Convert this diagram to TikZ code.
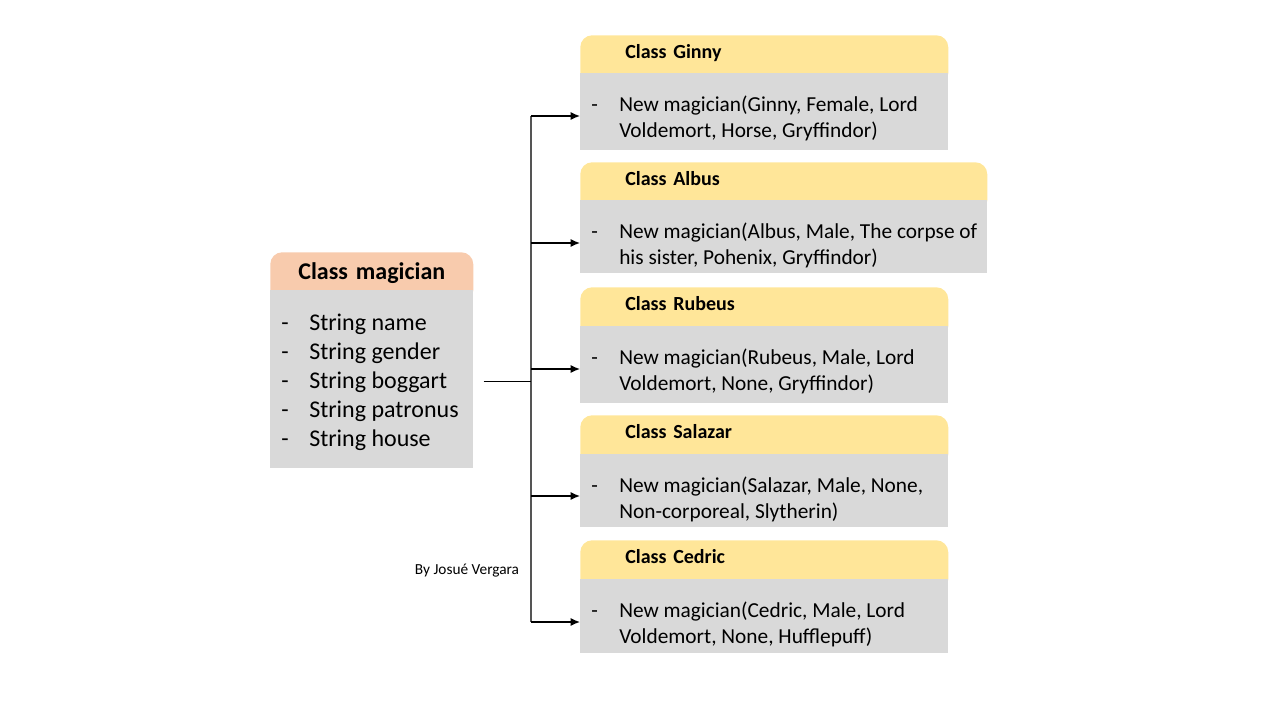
\documentclass[tikz,border=0pt]{standalone}
\usepackage{fontspec}
\setmainfont{Carlito}
\usetikzlibrary{arrows.meta}
\newdimen\px \px=0.75pt
\definecolor{peachh}{HTML}{F8CBAD}
\definecolor{yellowh}{HTML}{FFE699}
\definecolor{grayb}{HTML}{D9D9D9}
\definecolor{trunkc}{HTML}{555555}
\newcommand\smallbody[4]{\begin{minipage}[t][#2\px][t]{#1\px}\fontsize{16pt}{19.5pt}\selectfont\rule{0pt}{38\px}\makebox[39\px][l]{\hspace*{11\px}-}#3\\\hspace*{39\px}#4\end{minipage}}
\newcommand\mitem[1]{\makebox[39\px][l]{\hspace*{11\px}-}#1}
\begin{document}
\begin{tikzpicture}[x=0.75pt,y=-0.75pt,
  hdr/.style={anchor=north west, fill=yellowh, rounded corners=9pt, inner xsep=33.75pt, inner ysep=0pt,
    font=\fontsize{15pt}{18pt}\selectfont\bfseries, align=left, text height=17.25pt, text depth=20.25pt},
  mhdr/.style={anchor=north west, fill=peachh, rounded corners=9pt, inner xsep=0pt, inner ysep=0pt,
    font=\fontsize{18pt}{21pt}\selectfont\bfseries, align=center, text width=152.25pt, text height=20.25pt, text depth=17.25pt},
  bodybox/.style={anchor=north west, fill=grayb, inner sep=0pt},
  conn/.style={line width=1pt, draw=black},
  trunk/.style={line width=1.5pt, draw=trunkc},
  arr/.style={-{Latex[length=7pt,width=6pt]}}]
\useasboundingbox (0,0) rectangle (1280,720);

% magician class
\node[mhdr] (mh) at (270,252) {Class magician};
\node[bodybox] (mb) at (270,290) {\begin{minipage}[t][178\px][t]{203\px}\fontsize{18pt}{21.75pt}\selectfont\rule{0pt}{40\px}\mitem{String name}\\\mitem{String gender}\\\mitem{String boggart}\\\mitem{String patronus}\\\mitem{String house}\end{minipage}};

% Ginny
\node[hdr, text width=208.5pt] (h1) at (580,35) {Class Ginny};
\node[bodybox] (b1) at (580,73) {\smallbody{368}{77}{New magician(Ginny, Female, Lord}{Voldemort, Horse, Gryffindor)}};
% Albus
\node[hdr, text width=237.75pt] (h2) at (580,162) {Class Albus};
\node[bodybox] (b2) at (580,200) {\smallbody{407}{73}{\makebox[358\px][s]{New magician(Albus, Male, The corpse of}}{his sister, Pohenix, Gryffindor)}};
% Rubeus
\node[hdr, text width=208.5pt, text depth=21pt] (h3) at (580,287) {Class Rubeus};
\node[bodybox] (b3) at (580,326) {\smallbody{368}{77}{New magician(Rubeus, Male, Lord}{Voldemort, None, Gryffindor)}};
% Salazar
\node[hdr, text width=208.5pt, text depth=21pt] (h4) at (580,415) {Class Salazar};
\node[bodybox] (b4) at (580,454) {\smallbody{368}{73}{New magician(Salazar, Male, None,}{Non-corporeal, Slytherin)}};
% Cedric
\node[hdr, text width=208.5pt, text depth=21pt] (h5) at (580,540) {Class Cedric};
\node[bodybox] (b5) at (580,579) {\smallbody{368}{74}{New magician(Cedric, Male, Lord}{Voldemort, None, Hufflepuff)}};

\node[font=\fontsize{11.5pt}{13pt}\selectfont] (by) at (467,571) {By Josué Vergara};

% connectors
\coordinate (st) at ([xshift=7.5pt,yshift=-1.5pt]mb.east);
\coordinate (tr) at (531,0);
\coordinate (a1) at ([yshift=-32.25pt]b1.north west);
\coordinate (a2) at ([yshift=-32.25pt]b2.north west);
\coordinate (a3) at ([yshift=-32.25pt]b3.north west);
\coordinate (a4) at ([yshift=-31.5pt]b4.north west);
\coordinate (a5) at ([yshift=-32.25pt]b5.north west);
\draw[trunk] (a1 -| tr) -- (a5 -| tr);
\draw[conn] (st) -- (st -| tr);
\foreach \i in {1,...,5} \draw[conn, arr] (a\i -| tr) -- (a\i);
\end{tikzpicture}
\end{document}
